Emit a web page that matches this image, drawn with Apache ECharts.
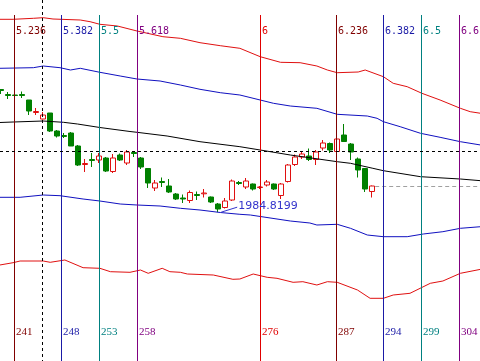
<!DOCTYPE html>
<html>
<head>
<meta charset="utf-8">
<script src="https://cdn.jsdelivr.net/npm/echarts@6/dist/echarts.min.js"></script>
<style>
  html, body { margin: 0; padding: 0; background: #fff; }
  #chart { width: 480px; height: 361px; }
</style>
</head>
<body>
<div id="chart"></div>
<script>
// Daily bars, numbered from firstBar; each row is [open, close, low, high]
const firstBar = 239;
const candles = [
  [2107.5, 2106.5, 2103, 2108],
  [2102.5, 2101.5, 2098, 2105],
  [2102, 2101.5, 2098, 2105.5],
  [2102.5, 2101.5, 2099, 2105.5],
  [2097, 2086, 2082, 2097],
  [2084.5, 2085.5, 2082, 2089],
  [2078, 2082, 2077.5, 2085],
  [2084, 2066, 2065, 2084],
  [2066, 2061, 2059.5, 2067],
  [2061.5, 2060.5, 2059, 2064],
  [2064, 2051, 2051, 2065],
  [2051, 2032, 2031, 2052],
  [2032.5, 2033.5, 2025, 2038],
  [2037.5, 2036.5, 2030, 2044],
  [2037, 2041, 2034, 2044],
  [2039, 2026, 2025, 2040],
  [2025.5, 2039, 2024, 2043],
  [2042, 2037, 2036, 2043.5],
  [2034, 2045, 2032, 2047],
  [2044.5, 2043.5, 2040, 2045.5],
  [2039, 2030, 2028, 2040],
  [2028.5, 2014, 2009, 2029],
  [2009, 2014, 2006, 2017],
  [2015.5, 2014.5, 2010, 2019.5],
  [2011, 2005, 2004, 2018],
  [2003, 1998, 1997, 2004],
  [1999, 1998, 1994, 2002.5],
  [1996.5, 2004.5, 1994, 2006.5],
  [2002.5, 2001.5, 1997, 2005.5],
  [2003.2, 2004, 1999.5, 2008],
  [2000, 1995, 1994, 2000.5],
  [1993, 1988, 1984.8199, 1994],
  [1989.5, 1996, 1988.5, 1999],
  [1997, 2016, 1996, 2017.5],
  [2014.5, 2013.5, 2012, 2016],
  [2010, 2016, 2008, 2019],
  [2013, 2008, 2006.5, 2013.5],
  [2009.5, 2010, 2008, 2011],
  [2012, 2015, 2010.5, 2017],
  [2013, 2008, 2007, 2013.5],
  [2001.5, 2013, 1998, 2014],
  [2015.5, 2032, 2014.5, 2033],
  [2032.5, 2040, 2031, 2042.5],
  [2040, 2043, 2038, 2045],
  [2041, 2037.5, 2036, 2048.5],
  [2037.5, 2045, 2032, 2047],
  [2049, 2054, 2046.5, 2057],
  [2053.5, 2047, 2044, 2054.5],
  [2045.5, 2058, 2042, 2063.5],
  [2062, 2055.5, 2055, 2073],
  [2053, 2045, 2037, 2054],
  [2038, 2027, 2019.5, 2039.5],
  [2028.5, 2008, 2005, 2029],
  [2005.5, 2011, 1999.5, 2011.5]
];

// Envelope bands and moving average, as [bar, price]
const upperOuter = [
  [238.8, 2177.7], [240.7, 2177.7], [243.6, 2178.7], [245, 2179.3], [246.4, 2178],
  [250.3, 2177], [251.7, 2175.3], [253.1, 2172.7], [255.6, 2171], [258.4, 2166],
  [259.9, 2163.7], [262.1, 2160.3], [264.6, 2158.7], [267.4, 2154.3], [270.3, 2151.3],
  [273.1, 2148.7], [276, 2140.3], [278.9, 2134.7], [281.7, 2134.3], [284.1, 2131],
  [285.6, 2127], [287, 2124.3], [290, 2125], [291, 2127], [293.6, 2120.3],
  [295, 2113.7], [297, 2110.3], [299.1, 2103.7], [301.7, 2097], [304.6, 2088.7],
  [306, 2085.3], [307.5, 2083.7]
];
const upperInner = [
  [238.8, 2128.7], [243.6, 2129.3], [245, 2131], [247.4, 2129.3], [248.9, 2127],
  [250.3, 2128.7], [253.1, 2124.7], [256, 2121], [258.4, 2118], [261.7, 2116],
  [264.6, 2112], [267.4, 2107.7], [270.3, 2104.3], [273.1, 2102], [276, 2097],
  [277.9, 2093.7], [280.3, 2091], [284.1, 2088.7], [287, 2082.7], [291.3, 2081],
  [292.7, 2078.7], [293.6, 2075.3], [296, 2070.3], [298.9, 2063.7], [301.7, 2059.7],
  [304.6, 2055.3], [307.5, 2052]
];
const middleAvg = [
  [238.8, 2074.5], [240.7, 2075], [245, 2076], [247.9, 2074.7], [249.9, 2073],
  [253.1, 2069.5], [257.4, 2065.5], [258.4, 2064.7], [262.7, 2061], [267.4, 2055.3],
  [273.1, 2050.3], [276, 2047], [280.3, 2042], [287, 2035.3], [288.9, 2033.7],
  [292.1, 2028.7], [293.6, 2026.3], [298.9, 2020.3], [304.6, 2018], [307.5, 2016.3]
];
const lowerInner = [
  [238.8, 1999.7], [241.7, 1999.7], [245, 2002], [247.4, 2001.3], [250.7, 1998],
  [253.1, 1996], [256, 1993], [258.4, 1992], [261.7, 1991], [264.6, 1988.7],
  [267.4, 1987], [270.3, 1984.5], [273.1, 1982.7], [274.6, 1982], [280.3, 1976],
  [283.1, 1974], [284.1, 1972], [287, 1972.7], [288.9, 1968.7], [291.3, 1962],
  [293.6, 1960.3], [297, 1960.3], [299.3, 1963], [302.1, 1965.3], [304.6, 1968.7],
  [307.5, 1970.3]
];
const lowerOuter = [
  [238.8, 1932], [240.7, 1934.3], [241.7, 1936], [245, 1936], [246, 1934.7],
  [248.1, 1937], [250.7, 1929.3], [253.1, 1928.7], [254.6, 1925.3], [257.4, 1924.7],
  [258.9, 1927], [260, 1923.7], [262, 1928.7], [263.1, 1925.3], [264.6, 1924.7],
  [265.6, 1923], [269.3, 1922], [272.1, 1917.7], [273.1, 1918], [275, 1923],
  [277, 1919.7], [278.4, 1918.7], [280.7, 1914.7], [282.1, 1915.3], [284.1, 1912],
  [285.6, 1915.3], [287, 1914.7], [289.9, 1907], [291.7, 1898.7], [293.6, 1898.7],
  [295, 1902], [297.4, 1903.7], [300.3, 1913.7], [302.1, 1916], [304.6, 1923.7],
  [307.5, 1927.7]
];

// Fibonacci time zones: ratio × cycle length (in bars)
const fibCycle = 46;
const fibRatios = [5.236, 5.382, 5.5, 5.618, 6, 6.236, 6.382, 6.5, 6.618];
const fibBarLabels = ['241', '248', '253', '258', '276', '287', '294', '299', '304'];

// Crosshair position
const crossBar = 245;
const crossPrice = 2046;

// ---- styling ----
const fibColors = ['#800000', '#1a1aa6', '#008080', '#800080', '#e00000',
                   '#800000', '#1a1aa6', '#008080', '#800080'];
const RED = '#e01010', BLUE = '#1010c0', GREEN = '#008000';
const PX_PER_BAR = 7;
const xMin = 238.83, xMax = xMin + 480 / PX_PER_BAR;
const yMin = 1836, yMax = 2197;

const candleData = candles.map((c, i) => [firstBar + i, c[0], c[1], c[2], c[3]]);
const lastBar = firstBar + candles.length - 1;
const lastClose = candles[candles.length - 1][1];
let lowIdx = 0;
candles.forEach((c, i) => { if (c[2] < candles[lowIdx][2]) lowIdx = i; });
const lowPoint = [firstBar + lowIdx, candles[lowIdx][2]];

const crisp = v => Math.round(v) + 0.5;

function band(data, color) {
  return {
    type: 'line', data, symbol: 'none', silent: true, z: 3,
    lineStyle: { color, width: 1 }, animation: false
  };
}

const chart = echarts.init(document.getElementById('chart'), null, { renderer: 'canvas' });
chart.setOption({
  animation: false,
  backgroundColor: '#ffffff',
  grid: { left: 0, right: 0, top: 0, bottom: 0 },
  xAxis: { type: 'value', min: xMin, max: xMax, show: false },
  yAxis: { type: 'value', min: yMin, max: yMax, show: false, scale: true },
  series: [
    {
      type: 'candlestick',
      data: candleData,
      encode: { x: 0, y: [1, 2, 3, 4] },
      barWidth: 5,
      z: 2,
      silent: true,
      itemStyle: {
        color: '#ffffff', borderColor: RED,
        color0: GREEN, borderColor0: GREEN,
        borderWidth: 1
      }
    },
    band(upperOuter, RED),
    band(upperInner, BLUE),
    band(middleAvg, '#000000'),
    band(lowerInner, BLUE),
    band(lowerOuter, RED),
    {
      // last close marker
      type: 'custom', silent: true, z: 4,
      data: [[lastBar, lastClose]],
      encode: { x: 0, y: 1 },
      renderItem: (params, api) => {
        const p = api.coord([api.value(0), api.value(1)]);
        const right = params.coordSys.x + params.coordSys.width;
        return {
          type: 'line',
          shape: { x1: p[0] + 3, y1: crisp(p[1]), x2: right, y2: crisp(p[1]) },
          style: { stroke: '#a0a0a0', lineWidth: 1, lineDash: [4, 3] }
        };
      }
    },
    {
      // Fibonacci time zone lines with ratio and bar labels
      type: 'custom', silent: true, z: 5,
      data: fibRatios.map((r, i) => [r * fibCycle, yMin, i]),
      encode: { x: 0, y: 1 },
      renderItem: (params, api) => {
        const i = api.value(2);
        const x = crisp(api.coord([api.value(0), yMin])[0]);
        const c = fibColors[i];
        return {
          type: 'group',
          children: [
            { type: 'line', shape: { x1: x, y1: 15, x2: x, y2: 361 },
              style: { stroke: c, lineWidth: 1 } },
            { type: 'text', x: x + 1.5, y: 31,
              style: { text: String(fibRatios[i]), fill: c,
                       font: '10px "DejaVu Sans Mono"', verticalAlign: 'middle', align: 'left' } },
            { type: 'text', x: x + 1.5, y: 332,
              style: { text: fibBarLabels[i], fill: c,
                       font: '11px "Liberation Serif"', verticalAlign: 'middle', align: 'left' } }
          ]
        };
      }
    },
    {
      // crosshair
      type: 'custom', silent: true, z: 6,
      data: [[crossBar, crossPrice]],
      encode: { x: 0, y: 1 },
      renderItem: (params, api) => {
        const p = api.coord([api.value(0), api.value(1)]);
        const cs = params.coordSys;
        const x = crisp(p[0]) - 1, y = crisp(p[1]);
        return {
          type: 'group',
          children: [
            { type: 'line', shape: { x1: x, y1: cs.y, x2: x, y2: cs.y + cs.height },
              style: { stroke: '#000', lineWidth: 1, lineDash: [3, 3] } },
            { type: 'line', shape: { x1: cs.x, y1: y, x2: cs.x + cs.width, y2: y },
              style: { stroke: '#000', lineWidth: 1, lineDash: [3, 3] } }
          ]
        };
      }
    },
    {
      // lowest low annotation
      type: 'custom', silent: true, z: 6,
      data: [lowPoint],
      encode: { x: 0, y: 1 },
      renderItem: (params, api) => {
        const v = [api.value(0), api.value(1)];
        const p = api.coord(v);
        const tx = p[0] + 20, ty = p[1] - 6;
        return {
          type: 'group',
          children: [
            { type: 'line', shape: { x1: p[0] + 3, y1: p[1], x2: tx - 1, y2: ty + 1 },
              style: { stroke: '#3333cc', lineWidth: 1 } },
            { type: 'text', x: tx, y: ty,
              style: { text: String(v[1]), fill: '#3333cc',
                       font: '11px "DejaVu Sans"', verticalAlign: 'middle', align: 'left' } }
          ]
        };
      }
    }
  ]
});
</script>
</body>
</html>
